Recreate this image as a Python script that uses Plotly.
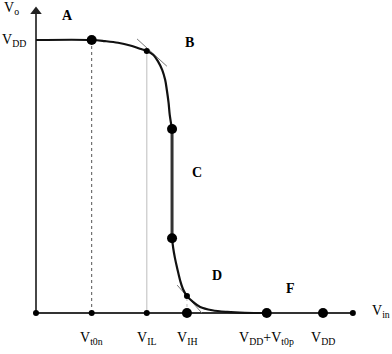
import plotly.graph_objects as go

# Units: VDD = 5
VDD = 5.0
x_ticks = [0.97, 1.93, 2.63, 4.02, 5.0]
x_tick_labels = ["V<sub>t0n</sub>", "V<sub>IL</sub>", "V<sub>IH</sub>",
                 "V<sub>DD</sub>+V<sub>t0p</sub>", "V<sub>DD</sub>"]
x_axis_end = 5.52
y_axis_end = 5.5

upper_x = [0.00, 0.97, 1.20, 1.43, 1.64, 1.81, 1.93, 2.04, 2.13, 2.20, 2.25, 2.28, 2.31, 2.33, 2.37]
upper_y = [5.00, 5.00, 4.98, 4.95, 4.90, 4.84, 4.80, 4.73, 4.60, 4.45, 4.27, 4.08, 3.85, 3.63, 3.37]
mid_x = [2.37, 2.37]
mid_y = [3.37, 1.37]
lower_x = [2.37, 2.39, 2.42, 2.46, 2.51, 2.56, 2.63, 2.74, 2.86, 3.07, 3.33, 3.64, 4.02]
lower_y = [1.37, 1.19, 1.01, 0.82, 0.60, 0.44, 0.31, 0.20, 0.11, 0.05, 0.02, 0.004, 0.0]

tanB_x = [1.76, 2.28]
tanB_y = [5.02, 4.52]
tanD_x = [2.46, 2.89]
tanD_y = [0.51, 0.0]

big_dots_x = [0.97, 2.37, 2.37, 2.63, 4.02, 5.0]
big_dots_y = [5.0, 3.37, 1.37, 0.0, 0.0, 0.0]
small_dots_x = [0.0, 0.97, 1.93, 5.52, 1.93, 2.63]
small_dots_y = [0.0, 0.0, 0.0, 0.0, 4.80, 0.31]

region_labels = ["A", "B", "C", "D", "F"]
region_x = [0.54, 2.68, 2.80, 3.15, 4.44]
region_y = [5.44, 4.95, 2.58, 0.68, 0.44]

FONT = "Liberation Serif"
fig = go.Figure()

def line(xs, ys, color, width, dash="solid", shape="linear"):
    fig.add_trace(go.Scatter(x=xs, y=ys, mode="lines",
                             line=dict(color=color, width=width, dash=dash, shape=shape),
                             hoverinfo="skip", showlegend=False))

# guide lines
line([x_ticks[0], x_ticks[0]], [0, VDD], "#555", 1, "dot")
line([x_ticks[1], x_ticks[1]], [0, upper_y[6]], "#c8c8c8", 1.2)
line([x_ticks[2], x_ticks[2]], [0, lower_y[6]], "#c8c8c8", 1.2, "dot")

# axes
line([0, x_axis_end], [0, 0], "#333", 1.8)
line([0, 0], [0, y_axis_end], "#333", 1.8)
fig.add_trace(go.Scatter(x=[0], y=[y_axis_end + 0.02], mode="markers",
                         marker=dict(symbol="triangle-up", size=10, color="#222"),
                         hoverinfo="skip", showlegend=False))

# tangents
line(tanB_x, tanB_y, "#777", 1)
line(tanD_x, tanD_y, "#777", 1)

# curve
line(upper_x, upper_y, "#111", 2.2, shape="spline")
line(mid_x, mid_y, "#333", 3)
line(lower_x, lower_y, "#111", 2.2, shape="spline")

fig.add_trace(go.Scatter(x=small_dots_x, y=small_dots_y, mode="markers",
                         marker=dict(size=6, color="#000"), hoverinfo="skip", showlegend=False))
fig.add_trace(go.Scatter(x=big_dots_x, y=big_dots_y, mode="markers",
                         marker=dict(size=10, color="#000"), hoverinfo="skip", showlegend=False))

for t, x, y in zip(region_labels, region_x, region_y):
    fig.add_annotation(x=x, y=y, text="<b>%s</b>" % t, showarrow=False,
                       font=dict(family=FONT, size=14, color="#000"))

for t, x in zip(x_tick_labels, x_ticks):
    fig.add_annotation(x=x, y=-0.46, text=t, showarrow=False,
                       font=dict(family=FONT, size=14, color="#000"))

fig.add_annotation(x=x_axis_end + 0.3, y=0.02, text="V<sub>in</sub>", showarrow=False,
                   xanchor="left", font=dict(family=FONT, size=14, color="#000"))
fig.add_annotation(x=-0.6, y=5.57, text="V<sub>o</sub>", showarrow=False, xanchor="left",
                   font=dict(family=FONT, size=14, color="#000"))
fig.add_annotation(x=0, xref="paper", xanchor="left", y=VDD, text="V<sub>DD</sub>",
                   showarrow=False, font=dict(family=FONT, size=14, color="#000"))

fig.update_layout(
    width=392, height=354, margin=dict(l=0, r=0, t=0, b=0),
    paper_bgcolor="white", plot_bgcolor="white",
    xaxis=dict(range=[-36 / 57.4, (392 - 36) / 57.4], visible=False, fixedrange=True),
    yaxis=dict(range=[(313 - 354) / 54.6, 313 / 54.6], visible=False, fixedrange=True),
)
fig.write_html("out.html")
